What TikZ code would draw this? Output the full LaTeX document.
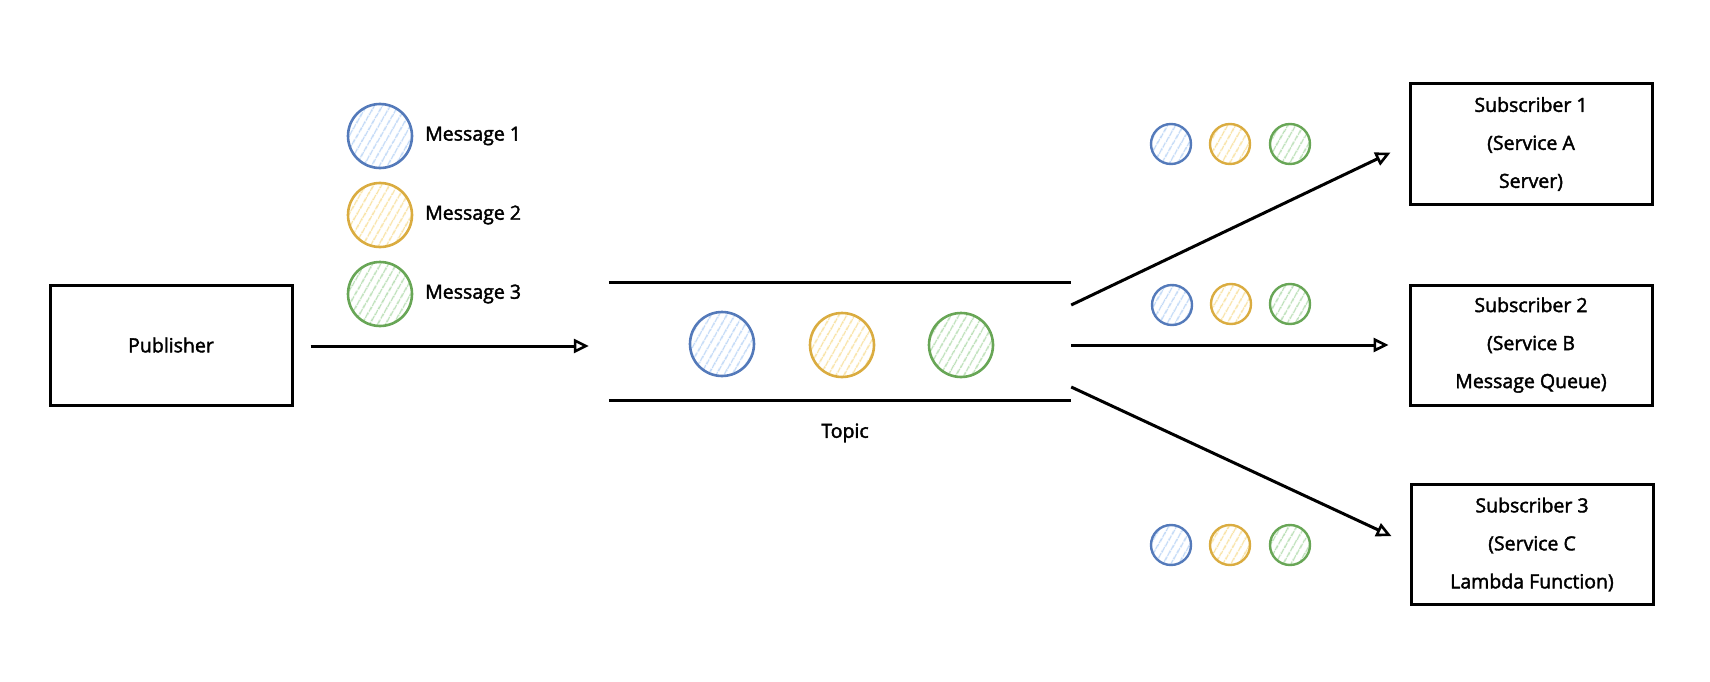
\documentclass[tikz,border=0pt]{standalone}
\usepackage{fontspec}
\setmainfont{Open Sans}[UprightFeatures={FakeBold=2}]
\usetikzlibrary{arrows.meta,patterns.meta}
\definecolor{blueS}{RGB}{84,122,186}
\definecolor{blueF}{RGB}{190,215,246}
\definecolor{yelS}{RGB}{218,172,64}
\definecolor{yelF}{RGB}{248,225,160}
\definecolor{grnS}{RGB}{104,166,86}
\definecolor{grnF}{RGB}{184,222,180}
\begin{document}
\begin{tikzpicture}[x=1pt,y=-1pt,
  box/.style={draw=black,line width=3pt,minimum width=242pt,minimum height=120pt,
    align=center,inner sep=0pt,font=\fontsize{19.5}{38}\selectfont},
  msg/.style={circle,line width=2.6pt,minimum size=64pt,inner sep=0pt},
  dot/.style={msg,minimum size=40pt,line width=2.4pt},
  hb/.style={draw=blueS,pattern={Lines[angle=60,distance=6.5pt,line width=1.6pt]},pattern color=blueF},
  hy/.style={draw=yelS,pattern={Lines[angle=60,distance=6.5pt,line width=1.6pt]},pattern color=yelF},
  hg/.style={draw=grnS,pattern={Lines[angle=60,distance=6.5pt,line width=1.6pt]},pattern color=grnF},
  lbl/.style={inner sep=0pt,font=\fontsize{19.5}{24}\selectfont},
  conn/.style={draw=black,line width=3pt,-{Triangle[open,length=15pt,width=14pt,line width=2.6pt]}},
  topicline/.style={draw=black,line width=3.2pt}]
\useasboundingbox (0,0) rectangle (1710,682);

% Publisher
\node[box] (pub) at (171,345) {Publisher};

% Legend
\node[msg,hb] (m1) at (380,136) {};
\node[msg,hy] (m2) at (380,215) {};
\node[msg,hg] (m3) at (380,294) {};
\node[lbl,anchor=west] (m1t) at (425,136) {Message 1};
\node[lbl,anchor=west] (m2t) at (425,215) {Message 2};
\node[lbl,anchor=west] (m3t) at (425,294) {Message 3};

% Topic
\node[minimum width=462pt,minimum height=117pt,inner sep=0pt] (topic) at (840,341.5) {};
\draw[topicline] (topic.north west) -- (topic.north east);
\draw[topicline] (topic.south west) -- (topic.south east);
\node[msg,hb] (t1) at (722,344) {};
\node[msg,hy] (t2) at (842,345) {};
\node[msg,hg] (t3) at (961,345) {};
\node[lbl] (topict) at (845,433) {Topic};

% Subscribers
\node[box] (s1) at (1531,144) {Subscriber 1\\(Service A\\Server)};
\node[box] (s2) at (1531,345) {Subscriber 2\\(Service B\\Message Queue)};
\node[box] (s3) at (1532,544.5) {Subscriber 3\\(Service C\\Lambda Function)};

% Small dots
\node[dot,hb] (a1) at (1171,144) {};
\node[dot,hy] (a2) at (1230,144) {};
\node[dot,hg] (a3) at (1290,144) {};
\node[dot,hb] (b1) at (1172,305) {};
\node[dot,hy] (b2) at (1231,304) {};
\node[dot,hg] (b3) at (1290,304) {};
\node[dot,hb] (c1) at (1171,545) {};
\node[dot,hy] (c2) at (1230,545) {};
\node[dot,hg] (c3) at (1290,545) {};

% Connectors
\draw[conn,shorten <=17pt,shorten >=20pt] ([yshift=-1pt]pub.east) -- ([yshift=-1pt]pub.east -| topic.west);
\draw[conn,shorten >=20pt] ([yshift=36.5pt]topic.east) -- (s1.west);
\draw[conn,shorten >=20pt] (topic.east |- s2.west) -- (s2.west);
\draw[conn,shorten >=20pt] ([yshift=-45.5pt]topic.east) -- (s3.west);
\end{tikzpicture}
\end{document}
